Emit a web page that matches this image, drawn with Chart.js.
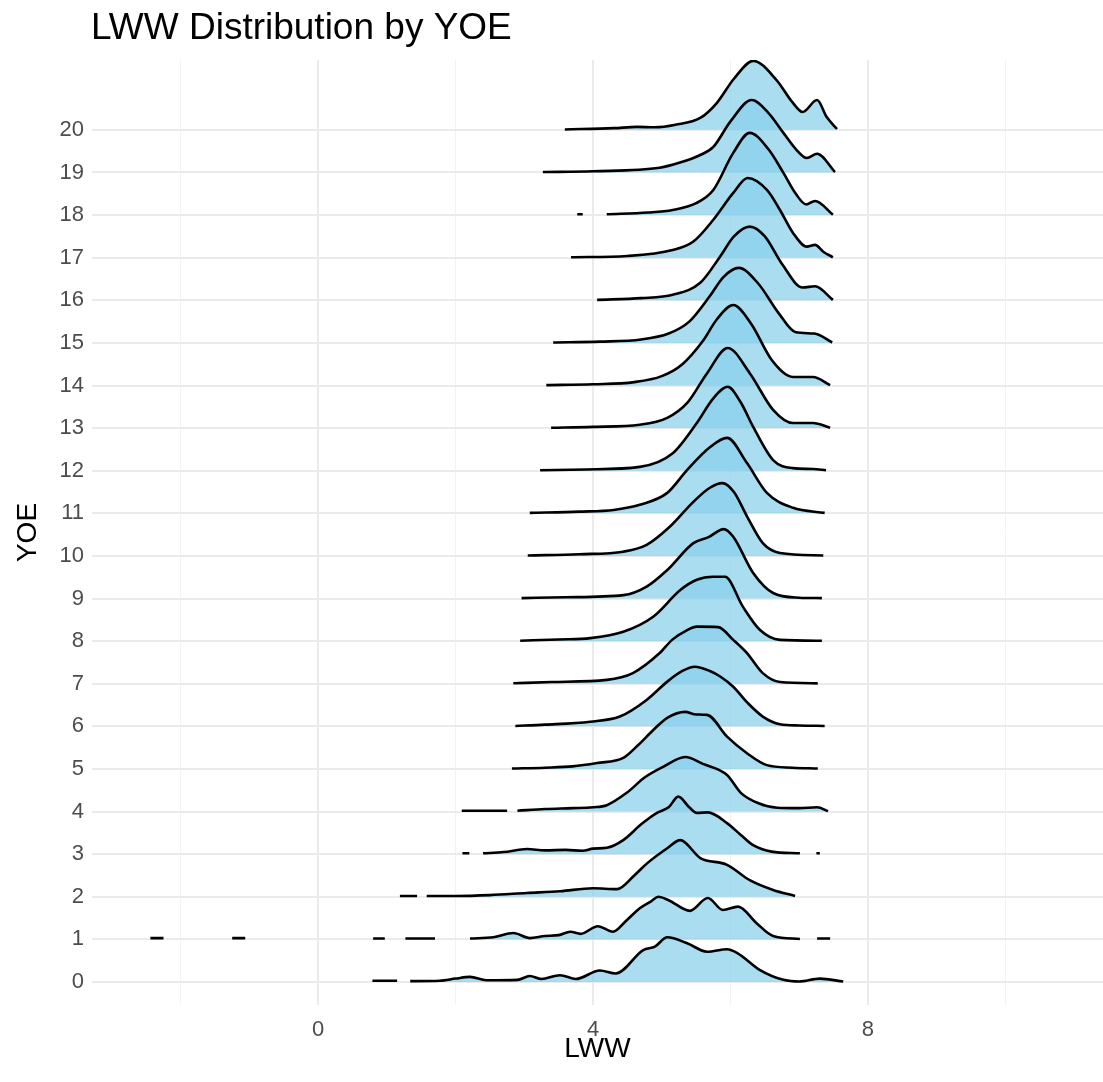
<!DOCTYPE html>
<html>
<head>
<meta charset="utf-8">
<title>LWW Distribution by YOE</title>
<script src="https://cdn.jsdelivr.net/npm/chart.js@4.4.0/dist/chart.umd.min.js"></script>
<style>
  body { margin: 0; background: #fff; }
  #wrap { width: 1103px; height: 1082px; }
</style>
</head>
<body>
<div id="wrap"><canvas id="chart" width="1103" height="1082"></canvas></div>
<script>
// categorias (YOE) y ticks del eje x
const yoe = [0, 1, 2, 3, 4, 5, 6, 7, 8, 9, 10, 11, 12, 13, 14, 15, 16, 17, 18, 19, 20];
const xTicks = [-2, 0, 2, 4, 6, 8, 10];
const xLabels = [0, 4, 8];

// densidades: lwwN = valores de LWW, densN = altura de la cresta (null = hueco)
const lww0 = [0.79, 1.15, 1.25, 1.34, 1.77, 2.0, 2.21, 2.45, 2.9, 3.08, 3.25, 3.52, 3.75, 4.1, 4.33, 4.73, 4.9, 5.08, 5.37, 5.66, 5.95, 6.1, 6.43, 6.77, 7.0, 7.3, 7.64];
const dens0 = [0.03, 0.03, null, 0.02, 0.03, 0.08, 0.12, 0.04, 0.05, 0.14, 0.07, 0.16, 0.07, 0.27, 0.2, 0.75, 0.83, 1.05, 0.91, 0.71, 0.77, 0.68, 0.28, 0.05, 0.01, 0.08, 0.01];

const lww1 = [-2.44, -2.25, -1.7, -1.25, -1.06, 0.0, 0.8, 0.97, 1.1, 1.27, 1.7, 1.95, 2.21, 2.55, 2.84, 3.08, 3.3, 3.5, 3.67, 3.82, 4.07, 4.29, 4.49, 4.68, 4.85, 4.95, 5.1, 5.41, 5.67, 5.89, 6.11, 6.38, 6.62, 7.01, 7.13, 7.26, 7.45];
const dens1 = [0.03, 0.03, null, 0.03, 0.03, null, 0.02, 0.02, null, 0.02, 0.02, null, 0.02, 0.05, 0.15, 0.03, 0.08, 0.1, 0.18, 0.13, 0.31, 0.18, 0.45, 0.73, 0.9, 1.0, 0.92, 0.67, 0.97, 0.69, 0.77, 0.38, 0.08, 0.01, null, 0.02, 0.02];

const lww2 = [1.19, 1.44, 1.5, 1.58, 2.0, 2.5, 3.04, 3.52, 4.0, 4.35, 4.6, 4.79, 5.08, 5.27, 5.56, 5.95, 6.28, 6.62, 6.94];
const dens2 = [0.02, 0.02, null, 0.02, 0.02, 0.04, 0.09, 0.13, 0.2, 0.18, 0.5, 0.79, 1.14, 1.33, 0.91, 0.75, 0.39, 0.16, 0.02];

const lww3 = [2.1, 2.2, 2.3, 2.4, 2.7, 3.04, 3.3, 3.6, 3.85, 4.0, 4.2, 4.44, 4.7, 4.93, 5.1, 5.24, 5.4, 5.51, 5.67, 5.95, 6.15, 6.33, 6.6, 7.01, 7.15, 7.25, 7.3];
const dens3 = [0.02, 0.02, null, 0.02, 0.05, 0.12, 0.09, 0.1, 0.08, 0.13, 0.15, 0.33, 0.7, 0.97, 1.1, 1.35, 1.1, 0.97, 0.98, 0.73, 0.45, 0.21, 0.06, 0.02, null, 0.02, 0.02];

const lww4 = [2.09, 2.75, 2.82, 2.9, 3.3, 3.7, 4.0, 4.2, 4.49, 4.75, 5.02, 5.34, 5.6, 5.95, 6.15, 6.4, 6.68, 7.0, 7.26, 7.42];
const dens4 = [0.02, 0.02, null, 0.02, 0.06, 0.08, 0.1, 0.15, 0.44, 0.8, 1.05, 1.28, 1.12, 0.86, 0.44, 0.2, 0.09, 0.08, 0.1, 0.01];

const lww5 = [2.82, 3.3, 3.7, 4.06, 4.44, 4.65, 4.88, 5.08, 5.34, 5.5, 5.66, 5.95, 6.24, 6.53, 6.9, 7.27];
const dens5 = [0.01, 0.03, 0.06, 0.14, 0.26, 0.55, 0.92, 1.2, 1.34, 1.28, 1.27, 0.76, 0.37, 0.09, 0.03, 0.01];

const lww6 = [2.87, 3.3, 3.96, 4.39, 4.78, 5.08, 5.3, 5.48, 5.7, 5.85, 6.04, 6.25, 6.47, 6.72, 7.0, 7.37];
const dens6 = [0.01, 0.04, 0.11, 0.23, 0.62, 1.05, 1.3, 1.4, 1.3, 1.17, 0.93, 0.55, 0.23, 0.05, 0.02, 0.01];

const lww7 = [2.84, 3.4, 4.2, 4.58, 4.97, 5.15, 5.37, 5.51, 5.82, 6.04, 6.24, 6.47, 6.72, 7.27];
const dens7 = [0.01, 0.04, 0.09, 0.25, 0.72, 1.03, 1.26, 1.34, 1.33, 1.03, 0.72, 0.25, 0.04, 0.01];

const lww8 = [2.94, 3.5, 3.96, 4.44, 4.88, 5.27, 5.51, 5.75, 5.92, 6.18, 6.43, 6.72, 7.33];
const dens8 = [0.01, 0.04, 0.07, 0.22, 0.58, 1.2, 1.44, 1.51, 1.51, 0.81, 0.26, 0.03, 0.01];

const lww9 = [2.96, 3.6, 4.44, 4.78, 5.08, 5.46, 5.68, 5.9, 6.04, 6.33, 6.62, 7.0, 7.33];
const dens9 = [0.01, 0.03, 0.08, 0.28, 0.67, 1.3, 1.44, 1.63, 1.45, 0.6, 0.13, 0.02, 0.01];

const lww10 = [3.05, 3.8, 4.44, 4.78, 5.12, 5.46, 5.7, 5.88, 6.05, 6.24, 6.47, 6.72, 7.35];
const dens10 = [0.01, 0.04, 0.1, 0.26, 0.69, 1.27, 1.6, 1.71, 1.5, 0.93, 0.3, 0.07, 0.01];

const lww11 = [3.08, 3.8, 4.3, 4.68, 5.08, 5.37, 5.7, 5.95, 6.24, 6.53, 6.91, 7.37];
const dens11 = [0.01, 0.04, 0.08, 0.2, 0.48, 1.02, 1.55, 1.77, 1.18, 0.48, 0.13, 0.01];

const lww12 = [3.23, 3.9, 4.68, 5.16, 5.51, 5.75, 5.96, 6.15, 6.33, 6.62, 6.91, 7.2, 7.39];
const dens12 = [0.01, 0.03, 0.09, 0.41, 1.12, 1.7, 1.97, 1.6, 1.03, 0.25, 0.06, 0.04, 0.01];

const lww13 = [3.39, 4.0, 4.68, 5.08, 5.37, 5.66, 5.96, 6.28, 6.62, 6.91, 7.2, 7.45];
const dens13 = [0.01, 0.03, 0.08, 0.24, 0.59, 1.29, 1.88, 1.29, 0.43, 0.12, 0.12, 0.01];

const lww14 = [3.32, 4.0, 4.6, 5.0, 5.3, 5.6, 5.8, 6.04, 6.3, 6.6, 6.91, 7.2, 7.45];
const dens14 = [0.01, 0.03, 0.08, 0.22, 0.5, 1.05, 1.55, 1.89, 1.45, 0.6, 0.2, 0.2, 0.01];

const lww15 = [3.42, 4.1, 4.7, 5.1, 5.4, 5.7, 5.9, 6.12, 6.4, 6.7, 6.95, 7.22, 7.48];
const dens15 = [0.01, 0.03, 0.08, 0.22, 0.5, 1.1, 1.55, 1.76, 1.4, 0.7, 0.25, 0.22, 0.01];

const lww16 = [4.06, 4.7, 5.16, 5.56, 5.85, 6.05, 6.28, 6.5, 6.75, 7.05, 7.23, 7.49];
const dens16 = [0.01, 0.05, 0.13, 0.41, 1.03, 1.5, 1.73, 1.5, 0.85, 0.3, 0.33, 0.01];

const lww17 = [3.68, 4.5, 5.16, 5.46, 5.75, 6.04, 6.25, 6.53, 6.72, 6.91, 7.11, 7.23, 7.35, 7.49];
const dens17 = [0.01, 0.04, 0.18, 0.38, 0.89, 1.52, 1.87, 1.59, 1.12, 0.58, 0.26, 0.3, 0.14, 0.01];

const lww18 = [3.77, 3.85, 4.0, 4.2, 4.8, 5.16, 5.5, 5.75, 6.04, 6.28, 6.55, 6.77, 6.95, 7.1, 7.23, 7.49];
const dens18 = [0.02, 0.02, null, 0.02, 0.06, 0.12, 0.28, 0.59, 1.46, 1.93, 1.55, 0.99, 0.5, 0.25, 0.33, 0.01];

const lww19 = [3.27, 4.0, 4.97, 5.3, 5.56, 5.75, 6.0, 6.31, 6.55, 6.77, 6.95, 7.11, 7.26, 7.52];
const dens19 = [0.01, 0.03, 0.11, 0.25, 0.41, 0.6, 1.2, 1.7, 1.4, 0.93, 0.55, 0.34, 0.44, 0.01];

const lww20 = [3.59, 4.3, 4.64, 4.9, 5.2, 5.56, 5.8, 6.05, 6.33, 6.67, 6.9, 7.05, 7.26, 7.4, 7.55];
const dens20 = [0.01, 0.04, 0.07, 0.06, 0.12, 0.28, 0.63, 1.2, 1.62, 1.17, 0.65, 0.42, 0.7, 0.3, 0.02];

const lwwPorYoe = [lww0, lww1, lww2, lww3, lww4, lww5, lww6, lww7, lww8, lww9, lww10,
  lww11, lww12, lww13, lww14, lww15, lww16, lww17, lww18, lww19, lww20];
const densPorYoe = [dens0, dens1, dens2, dens3, dens4, dens5, dens6, dens7, dens8, dens9, dens10,
  dens11, dens12, dens13, dens14, dens15, dens16, dens17, dens18, dens19, dens20];

const fuente = "'Liberation Sans', Arial, Helvetica, sans-serif";

// dataset 0 se dibuja al final (encima), como en ggridges
const datasets = yoe.map((k, i) => ({
  label: "YOE " + k,
  data: lwwPorYoe[i].map((x, j) => ({
    x: x,
    y: densPorYoe[i][j] === null ? null : k + densPorYoe[i][j],
  })),
  borderColor: "#000000",
  borderWidth: 2.6,
  backgroundColor: "rgba(135, 206, 235, 0.7)",
  fill: { value: k },
  pointRadius: 0,
  cubicInterpolationMode: "monotone",
  spanGaps: false,
}));

// titulo del grafico
const titulo = {
  id: "titulo",
  afterDraw(chart) {
    const ctx = chart.ctx;
    ctx.save();
    ctx.font = "37px " + fuente;
    ctx.fillStyle = "#000000";
    ctx.textAlign = "left";
    ctx.textBaseline = "alphabetic";
    ctx.fillText("LWW Distribution by YOE", 91, 39);
    ctx.restore();
  },
};

const canvas = document.getElementById("chart");
const chart = new Chart(canvas.getContext("2d"), {
  type: "line",
  data: { datasets: datasets },
  plugins: [titulo],
  options: {
    responsive: false,
    animation: false,
    events: [],
    layout: { padding: { top: 60, left: 0, right: 0, bottom: 0 } },
    plugins: {
      legend: { display: false },
      tooltip: { enabled: false },
      title: { display: false },
    },
    scales: {
      x: {
        type: "linear",
        min: -3.29,
        max: 11.42,
        afterBuildTicks: (s) => { s.ticks = xTicks.map((v) => ({ value: v })); },
        afterFit: (s) => { s.height = 77; },
        border: { display: false },
        grid: {
          drawTicks: false,
          color: (c) => (c.tick && xLabels.includes(c.tick.value) ? "#ebebeb" : "#f3f3f3"),
          lineWidth: (c) => (c.tick && xLabels.includes(c.tick.value) ? 2 : 1),
        },
        ticks: {
          padding: 12,
          color: "#4d4d4d",
          font: { family: fuente, size: 22 },
          maxRotation: 0,
          autoSkip: false,
          callback: (v) => (xLabels.includes(v) ? String(v) : ""),
        },
        title: {
          display: true,
          text: "LWW",
          color: "#000000",
          font: { family: fuente, size: 28 },
          padding: { top: 0, bottom: 16 },
        },
      },
      y: {
        type: "linear",
        min: -0.54,
        max: 21.64,
        afterBuildTicks: (s) => { s.ticks = yoe.map((v) => ({ value: v })); },
        afterFit: (s) => { s.width = 92; },
        border: { display: false },
        grid: { drawTicks: false, color: "#ebebeb", lineWidth: 2 },
        ticks: {
          padding: 8,
          color: "#4d4d4d",
          font: { family: fuente, size: 22 },
          autoSkip: false,
          callback: (v) => String(v),
        },
        title: {
          display: true,
          text: "YOE",
          color: "#000000",
          font: { family: fuente, size: 28 },
          padding: { top: 11, bottom: 0 },
        },
      },
    },
  },
});
</script>
</body>
</html>
